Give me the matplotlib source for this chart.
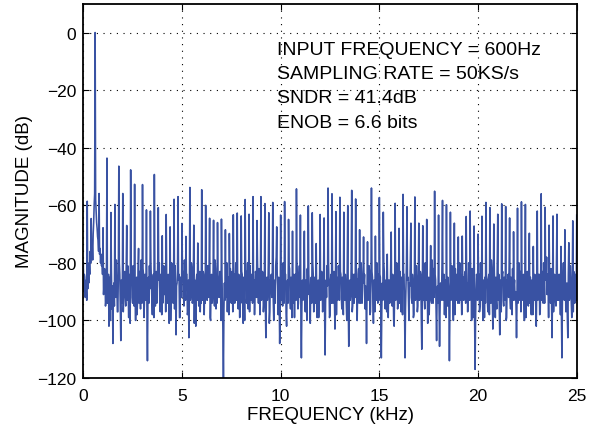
import matplotlib.pyplot as plt
import numpy as np

plt.rcParams['font.family'] = ['Liberation Sans', 'DejaVu Sans']

# FFT bin spacing (kHz); spurs sit on every 8th bin -> 0.2 kHz
bin_khz = 0.025
spur_every = 8

# noise floor on the even bins (0, 0.05, ... 25 kHz), dB
noise_even = [
    -80, -84, -92, -86, -84, -82, -80, -76, -74, -74, -70, -60, -60, -62, -68, -72, -74, -75, -77, -79,
    -82, -88, -84, -93, -86, -90, -102, -85, -89, -96, -108, -87, -83, -92, -86, -97, -88, -84, -107, -89,
    -85, -91, -83, -95, -87, -81, -99, -86, -90, -84, -94, -88, -82, -100, -85, -92, -87, -83, -96, -86,
    -88, -84, -93, -86, -90, -114, -85, -81, -92, -87, -98, -84, -89, -95, -83, -88, -91, -80, -97, -86,
    -85, -92, -87, -82, -96, -88, -84, -101, -86, -90, -83, -94, -88, -81, -105, -87, -91, -84, -99, -86,
    -89, -83, -95, -87, -91, -84, -97, -106, -85, -90, -82, -93, -88, -86, -102, -84, -90, -95, -83, -88,
    -86, -93, -84, -89, -98, -85, -81, -92, -87, -100, -84, -90, -86, -95, -82, -88, -103, -86, -91, -84,
    -88, -95, -120, -87, -83, -90, -97, -85, -89, -82, -94, -87, -99, -84, -91, -86, -80, -96, -88, -85,
    -90, -84, -101, -87, -92, -83, -89, -96, -85, -81, -93, -88, -104, -86, -90, -84, -95, -87, -82, -98,
    -86, -91, -84, -94, -88, -106, -85, -90, -83, -97, -87, -92, -84, -100, -86, -81, -93, -88, -85, -108,
    -87, -83, -95, -88, -91, -84, -102, -86, -90, -82, -96, -88, -85, -93, -99, -84, -89, -86, -94, -81,
    -88, -113, -86, -91, -84, -97, -87, -82, -93, -89, -101, -85, -90, -84, -96, -88, -83, -99, -86, -92,
    -85, -90, -84, -95, -88, -112, -86, -81, -92, -87, -98, -84, -89, -94, -83, -103, -88, -85, -91, -86,
    -89, -84, -96, -87, -82, -93, -88, -100, -85, -109, -86, -91, -83, -95, -88, -84, -97, -86, -90, -82,
    -87, -94, -85, -90, -99, -84, -88, -108, -86, -92, -83, -97, -89, -85, -101, -87, -82, -93, -88, -84,
    -90, -85, -113, -87, -91, -83, -96, -88, -84, -99, -86, -92, -81, -95, -87, -102, -85, -89, -84, -94,
    -88, -83, -97, -86, -90, -84, -113, -87, -92, -85, -100, -88, -82, -94, -87, -98, -84, -90, -86, -95,
    -85, -91, -84, -110, -88, -83, -96, -87, -90, -101, -85, -89, -84, -94, -88, -82, -97, -86, -107, -88,
    -85, -109, -87, -92, -84, -90, -98, -86, -83, -95, -88, -114, -85, -91, -84, -100, -87, -82, -93, -88,
    -86, -94, -84, -89, -97, -85, -91, -83, -102, -87, -90, -84, -96, -88, -82, -99, -86, -117, -89, -85,
    -91, -84, -95, -87, -83, -100, -88, -85, -92, -86, -97, -84, -89, -94, -82, -103, -87, -90, -85, -96,
    -88, -84, -105, -86, -91, -83, -95, -88, -85, -99, -87, -92, -84, -96, -89, -82, -101, -86, -90, -106,
    -85, -92, -87, -83, -96, -88, -84, -100, -86, -91, -83, -95, -88, -85, -98, -87, -82, -93, -89, -102,
    -86, -90, -84, -97, -88, -83, -94, -87, -101, -85, -91, -84, -96, -88, -82, -106, -87, -90, -85, -95,
    -88, -84, -93, -86, -90, -113, -85, -92, -83, -97, -87, -106, -84, -91, -86, -99, -88, -83, -94, -87,
    -86,
]

# noise floor on the odd bins (0.025, 0.075, ... 24.975 kHz), dB
noise_odd = [
    -90, -85, -88, -93, -89, -87, -84, -80, -78, -79, -66, -56, -58, -66, -71, -76, -77, -80, -81, -84,
    -91, -82, -95, -80, -94, -84, -88, -100, -83, -88, -91, -95, -90, -79, -97, -85, -80, -95, -86, -94,
    -97, -84, -92, -80, -93, -90, -84, -101, -83, -92, -81, -95, -91, -86, -98, -82, -94, -90, -79, -94,
    -82, -99, -84, -93, -97, -92, -94, -89, -80, -93, -88, -99, -82, -86, -94, -79, -86, -93, -84, -98,
    -94, -81, -91, -97, -85, -94, -90, -86, -100, -80, -92, -85, -96, -91, -88, -82, -86, -99, -85, -92,
    -84, -91, -79, -93, -84, -98, -86, -90, -93, -80, -94, -84, -101, -93, -86, -93, -80, -86, -97, -94,
    -92, -83, -98, -94, -86, -93, -89, -80, -99, -86, -94, -85, -93, -79, -96, -94, -84, -92, -83, -100,
    -84, -104, -96, -93, -92, -80, -86, -98, -84, -92, -83, -97, -86, -94, -80, -93, -90, -84, -99, -94,
    -83, -94, -85, -100, -85, -94, -80, -86, -97, -92, -84, -94, -88, -98, -83, -92, -79, -94, -91, -85,
    -93, -83, -97, -84, -95, -92, -93, -80, -101, -86, -84, -85, -93, -88, -94, -78, -84, -98, -92, -96,
    -93, -92, -80, -94, -84, -97, -88, -94, -81, -93, -85, -99, -94, -84, -87, -93, -79, -96, -85, -92,
    -98, -95, -93, -80, -93, -86, -100, -91, -84, -93, -88, -94, -80, -97, -85, -94, -91, -87, -99, -84,
    -93, -83, -97, -84, -96, -94, -92, -88, -80, -99, -86, -94, -83, -86, -92, -90, -98, -93, -81, -93,
    -83, -92, -85, -98, -92, -84, -94, -79, -95, -93, -93, -80, -97, -84, -94, -92, -85, -100, -84, -94,
    -92, -80, -94, -84, -87, -96, -92, -91, -93, -81, -98, -86, -83, -94, -86, -97, -92, -80, -94, -93,
    -84, -99, -96, -93, -80, -92, -86, -97, -92, -86, -94, -81, -92, -84, -100, -89, -93, -80, -96, -84,
    -94, -92, -85, -98, -84, -95, -96, -80, -86, -93, -87, -78, -92, -84, -99, -86, -93, -81, -97, -84,
    -93, -83, -99, -93, -93, -92, -80, -93, -86, -87, -98, -85, -93, -79, -94, -92, -84, -97, -92, -94,
    -94, -96, -93, -80, -93, -84, -87, -99, -92, -85, -96, -97, -93, -81, -94, -88, -98, -92, -84, -94,
    -92, -80, -93, -98, -86, -93, -84, -94, -88, -97, -80, -93, -85, -100, -92, -86, -98, -99, -84, -93,
    -84, -97, -80, -93, -92, -86, -99, -94, -84, -93, -86, -98, -84, -79, -93, -88, -83, -99, -93, -80,
    -93, -94, -92, -97, -84, -93, -85, -93, -100, -86, -84, -81, -93, -85, -98, -93, -88, -93, -95, -93,
    -94, -80, -93, -97, -85, -93, -94, -87, -99, -84, -93, -81, -94, -93, -86, -98, -92, -84, -95, -88,
    -93, -84, -98, -86, -93, -93, -80, -94, -86, -78, -84, -99, -85, -94, -93, -90, -97, -84, -93, -80,
    -93, -92, -84, -98, -98, -93, -80, -93, -86, -92, -99, -84, -93, -81, -94, -86, -97, -92, -84, -93,
]

# spur peaks at 0.2, 0.4, ... 25.0 kHz (fundamental 600 Hz at 0 dB)
spur_db = [
    -58.6, -64.6, 0.0, -55.9, -67.8, -43.6, -62.5, -59.7, -46.4, -55.9,
    -67.0, -47.7, -52.7, -75.0, -52.8, -61.6, -62.0, -49.3, -60.8, -70.6,
    -63.2, -67.5, -57.9, -57.0, -66.3, -70.8, -53.8, -66.9, -73.1, -54.6,
    -60.0, -64.5, -65.2, -66.0, -64.8, -68.5, -69.8, -63.3, -62.7, -63.7,
    -58.0, -63.1, -57.0, -65.3, -57.0, -59.4, -62.6, -59.0, -67.5, -63.4,
    -58.7, -64.9, -69.0, -54.3, -63.4, -69.0, -60.2, -62.6, -73.3, -63.2,
    -64.4, -54.0, -56.0, -62.2, -57.2, -62.4, -60.1, -54.8, -57.8, -68.5,
    -71.0, -72.7, -54.0, -70.7, -57.3, -62.4, -77.0, -69.3, -59.3, -68.0,
    -56.2, -60.5, -66.2, -57.1, -66.2, -67.1, -64.9, -74.0, -55.1, -63.4,
    -58.3, -59.8, -62.4, -66.2, -71.0, -70.7, -63.9, -62.0, -67.2, -70.0,
    -63.8, -59.0, -60.8, -66.5, -63.1, -59.5, -60.4, -64.4, -69.2, -61.0,
    -58.8, -59.7, -69.7, -74.3, -62.0, -56.0, -60.7, -66.9, -63.7, -63.1,
    -74.3, -68.5, -73.0, -65.4, -63.4,
]

info_lines = [
    "INPUT FREQUENCY = 600Hz",
    "SAMPLING RATE = 50KS/s",
    "SNDR = 41.4dB",
    "ENOB = 6.6 bits",
]

# interleave the two halves of the noise floor into one spectrum
mag = np.empty(len(noise_even) + len(noise_odd))
mag[0::2] = noise_even
mag[1::2] = noise_odd
freq = np.arange(len(mag)) * bin_khz
spur_idx = np.arange(1, len(spur_db) + 1) * spur_every
mag[spur_idx] = spur_db

fig = plt.figure(figsize=(6.01, 4.31), dpi=100)
ax = fig.add_axes([0.1386, 0.1206, 0.821, 0.8684])

ax.plot(freq, mag, color='#3952a3', linewidth=1.15)

ax.set_xlim(0, 25)
ax.set_ylim(-120, 10)
ax.set_xticks([0, 5, 10, 15, 20, 25])
ax.set_yticks([0, -20, -40, -60, -80, -100, -120])
ax.grid(True, color='black', linestyle=(0, (1, 5)), linewidth=0.8)
ax.tick_params(direction='in', length=4, width=0.8, top=True, right=True,
               labelsize=12.5, colors='black')
ax.tick_params(axis='x', pad=7)
ax.tick_params(axis='y', pad=5)
for s in ax.spines.values():
    s.set_linewidth(1.3)

ax.set_xlabel("FREQUENCY (kHz)", fontsize=13.5, labelpad=2)
ax.set_ylabel("MAGNITUDE (dB)", fontsize=13.5, labelpad=3)

for i, line in enumerate(info_lines):
    ax.text(9.8, -7.4 - 8.45 * i, line, fontsize=14, va='baseline', ha='left')

fig.savefig("out.png", dpi=100)
